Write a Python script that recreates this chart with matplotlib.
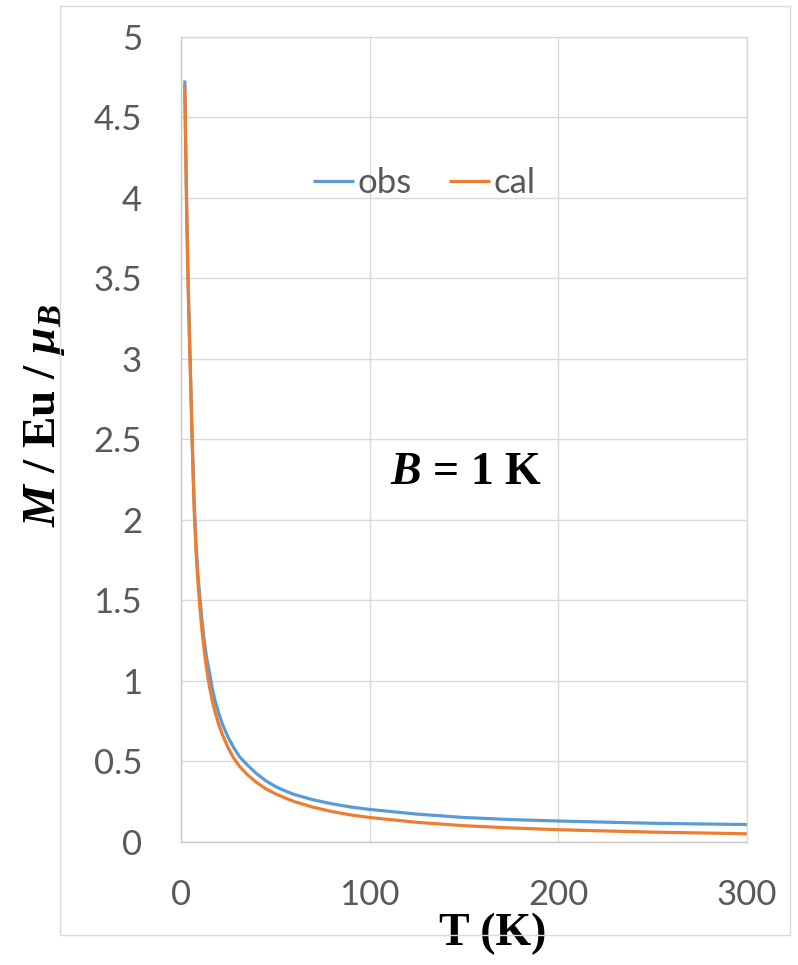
import numpy as np
import matplotlib
matplotlib.use("Agg")
import matplotlib.pyplot as plt
from matplotlib.patches import Rectangle

# values
T = [2, 2.5, 3, 3.5, 4, 4.5, 5, 5.5, 6, 7, 8, 9, 10, 11, 12, 13.5, 15, 16.5,
     18, 20, 22, 25, 28, 31, 35, 40, 45, 50, 55, 60, 70, 80, 90, 100, 125,
     150, 175, 200, 250, 300]
M_obs = [4.73, 4.33, 3.96, 3.65, 3.38, 3.15, 2.93, 2.71, 2.48, 2.10, 1.85,
         1.66, 1.52, 1.39, 1.28, 1.15, 1.06, 0.96, 0.88, 0.80, 0.73, 0.65,
         0.585, 0.53, 0.48, 0.425, 0.38, 0.345, 0.318, 0.295, 0.262, 0.237,
         0.217, 0.202, 0.173, 0.152, 0.139, 0.130, 0.116, 0.108]
M_cal = [4.70, 4.30, 3.93, 3.62, 3.35, 3.12, 2.90, 2.68, 2.45, 2.06, 1.80,
         1.61, 1.46, 1.33, 1.22, 1.08, 0.97, 0.88, 0.81, 0.73, 0.665, 0.585,
         0.52, 0.47, 0.42, 0.37, 0.33, 0.30, 0.274, 0.251, 0.216, 0.189,
         0.168, 0.152, 0.122, 0.101, 0.087, 0.076, 0.061, 0.051]

x_ticks = [0, 100, 200, 300]
y_ticks = [0, 0.5, 1, 1.5, 2, 2.5, 3, 3.5, 4, 4.5, 5]
y_ticklabels = ["0", "0.5", "1", "1.5", "2", "2.5", "3", "3.5", "4", "4.5", "5"]

c_obs = "#5B9BD5"
c_cal = "#ED7D31"
c_grid = "#D9D9D9"
c_text = "#595959"

plt.rcParams["mathtext.fontset"] = "custom"
plt.rcParams["mathtext.rm"] = "Liberation Serif:bold"
plt.rcParams["mathtext.it"] = "Liberation Serif:italic:bold"
plt.rcParams["mathtext.bf"] = "Liberation Serif:bold"

fig = plt.figure(figsize=(7.98, 9.65), dpi=100)
ax = fig.add_axes([0.2268, 0.1275, 0.7092, 0.8342])

# outer chart border (Excel style)
fig.patches.append(Rectangle((0.0752, 0.0311), 0.9148, 0.9627, transform=fig.transFigure,
                             fill=False, edgecolor=c_grid, linewidth=1.0))

ax.plot(T, M_obs, color=c_obs, lw=2.3, label="obs", solid_capstyle="butt")
ax.plot(T, M_cal, color=c_cal, lw=2.3, label="cal", solid_capstyle="butt")

ax.set_xlim(0, 300)
ax.set_ylim(0, 5)
ax.set_xticks(x_ticks)
ax.set_yticks(y_ticks)
ax.set_yticklabels(y_ticklabels)
ax.grid(True, color=c_grid, lw=1.0)
ax.set_axisbelow(True)
for s in ax.spines.values():
    s.set_color(c_grid)
    s.set_linewidth(1.0)
ax.spines["left"].set_color("#C8C8C8")
ax.spines["bottom"].set_color("#C8C8C8")

ax.tick_params(length=0, labelsize=25, labelcolor=c_text)
ax.tick_params(axis="y", pad=28)
ax.tick_params(axis="x", pad=27)
for lab in ax.get_xticklabels() + ax.get_yticklabels():
    lab.set_fontfamily("Lato")

ax.set_xlabel("T (K)", fontsize=33, fontfamily="Liberation Serif", fontweight="bold",
              color="black")
ax.xaxis.set_label_coords(0.55, -0.088)
ax.set_ylabel(r"$M$ / Eu / $\mu_B$", fontsize=34, fontfamily="Liberation Serif",
              fontweight="bold", color="black")
ax.yaxis.set_label_coords(-0.202, 0.53)

ax.text(0.5035, 0.458, r"$B$ = 1 K", transform=ax.transAxes, fontsize=33,
        fontfamily="Liberation Serif", fontweight="bold", ha="center", va="center")

leg = ax.legend(loc="center", bbox_to_anchor=(0.43, 0.819), ncol=2, frameon=False,
                handlelength=1.18, handletextpad=0.1, columnspacing=1.07,
                prop={"family": "Lato", "size": 25})
for t in leg.get_texts():
    t.set_color(c_text)

fig.savefig("out.png", dpi=100)
